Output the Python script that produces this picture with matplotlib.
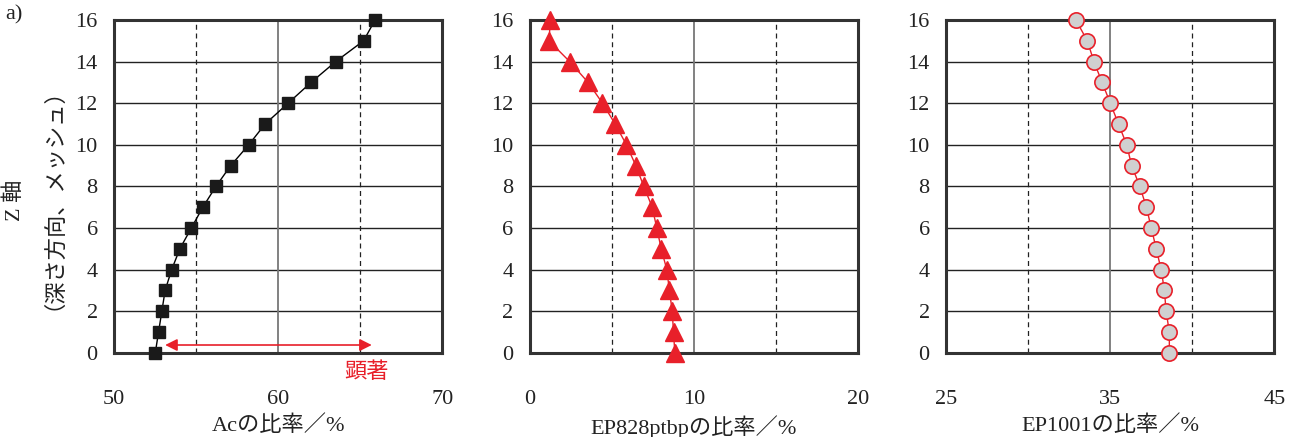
import matplotlib
matplotlib.use("Agg")
import matplotlib.pyplot as plt
import numpy as np

plt.rcParams['font.family'] = ['Liberation Serif', 'Noto Sans CJK JP']

# depth levels (Z axis mesh)
z = list(range(17))

ac = [52.5, 52.7, 52.9, 53.1, 53.5, 54.0, 54.7, 55.4, 56.2, 57.1,
      58.2, 59.2, 60.6, 62.0, 63.5, 65.2, 65.9]
ep828 = [8.83, 8.75, 8.67, 8.50, 8.34, 8.00, 7.73, 7.45, 6.94, 6.45,
         5.88, 5.19, 4.42, 3.54, 2.42, 1.16, 1.24]
ep1001 = [38.6, 38.6, 38.4, 38.3, 38.1, 37.8, 37.5, 37.2, 36.8, 36.3,
          36.0, 35.5, 35.0, 34.5, 34.0, 33.6, 32.9]

xlims = [(50, 70), (0, 20), (25, 45)]
xlabels = ['Acの比率／%', 'EP828ptbpの比率／%', 'EP1001の比率／%']

RED = '#e8202a'
FS = 16

fig = plt.figure(figsize=(13, 4.37), dpi=100)
W, H = 1300, 437
lefts = [114.3, 530.0, 946.3]
width = 328.0
top, bottom = 20.0, 352.7

axes = []
for i, l in enumerate(lefts):
    ax = fig.add_axes([l / W, 1 - bottom / H, width / W, (bottom - top) / H])
    axes.append(ax)

for i, ax in enumerate(axes):
    x0, x1 = xlims[i]
    ax.set_xlim(x0, x1)
    ax.set_ylim(0, 16)
    # grid
    for yy in range(2, 16, 2):
        ax.axhline(yy, color='#222222', lw=1.0, zorder=1)
    q = (x1 - x0) / 4
    ax.axvline(x0 + q, color='#222222', lw=0.9, ls=(0, (4, 3)), zorder=1)
    ax.axvline(x0 + 3 * q, color='#222222', lw=0.9, ls=(0, (4, 3)), zorder=1)
    ax.axvline(x0 + 2 * q, color='#777777', lw=1.3, zorder=1)
    ax.set_xticks([x0, x0 + 2 * q, x1])
    ax.set_yticks(range(0, 17, 2))
    ax.tick_params(length=0, labelsize=FS, colors='#222222')
    ax.tick_params(axis='x', pad=27)
    ax.tick_params(axis='y', pad=12)
    for s in ax.spines.values():
        s.set_linewidth(2.2)
        s.set_color('#333333')
        s.set_zorder(2)
    ax.set_xlabel(xlabels[i], fontsize=FS, labelpad=4, color='#222222')

axes[0].plot(ac, z, color='black', lw=1.0, marker='s', ms=8.5,
             mfc='#1a1a1a', mec='#1a1a1a', zorder=5, clip_on=False)
axes[1].plot(ep828, z, color=RED, lw=1.0, marker='^', ms=13,
             mfc=RED, mec=RED, zorder=5, clip_on=False)
axes[2].plot(ep1001, z, color=RED, lw=1.0, marker='o', ms=11,
             mfc='#d0d0d0', mec=RED, mew=1.2, zorder=5, clip_on=False)

# arrow and note in first panel
axes[0].annotate('', xy=(53.1, 0.37), xytext=(65.7, 0.37),
                 arrowprops=dict(arrowstyle='<|-|>', color=RED, lw=1.2,
                                 mutation_scale=18, shrinkA=0, shrinkB=0),
                 zorder=6)
axes[0].text(65.4, -0.96, '顕著', color=RED, fontsize=FS,
             ha='center', va='center', clip_on=False)

fig.text(15 / W, 1 - 200 / H, 'Z 軸', rotation=90, fontsize=FS,
         ha='center', va='center', color='#222222')
fig.text(43 / W, 1 - 188 / H, '（深さ方向、メッシュ）', rotation=90, fontsize=FS,
         ha='center', va='center', color='#222222')
fig.text(5 / W, 1 - 15 / H, 'a)', fontsize=FS, ha='left', va='center',
         color='#222222')

fig.savefig('out.png', dpi=100)
